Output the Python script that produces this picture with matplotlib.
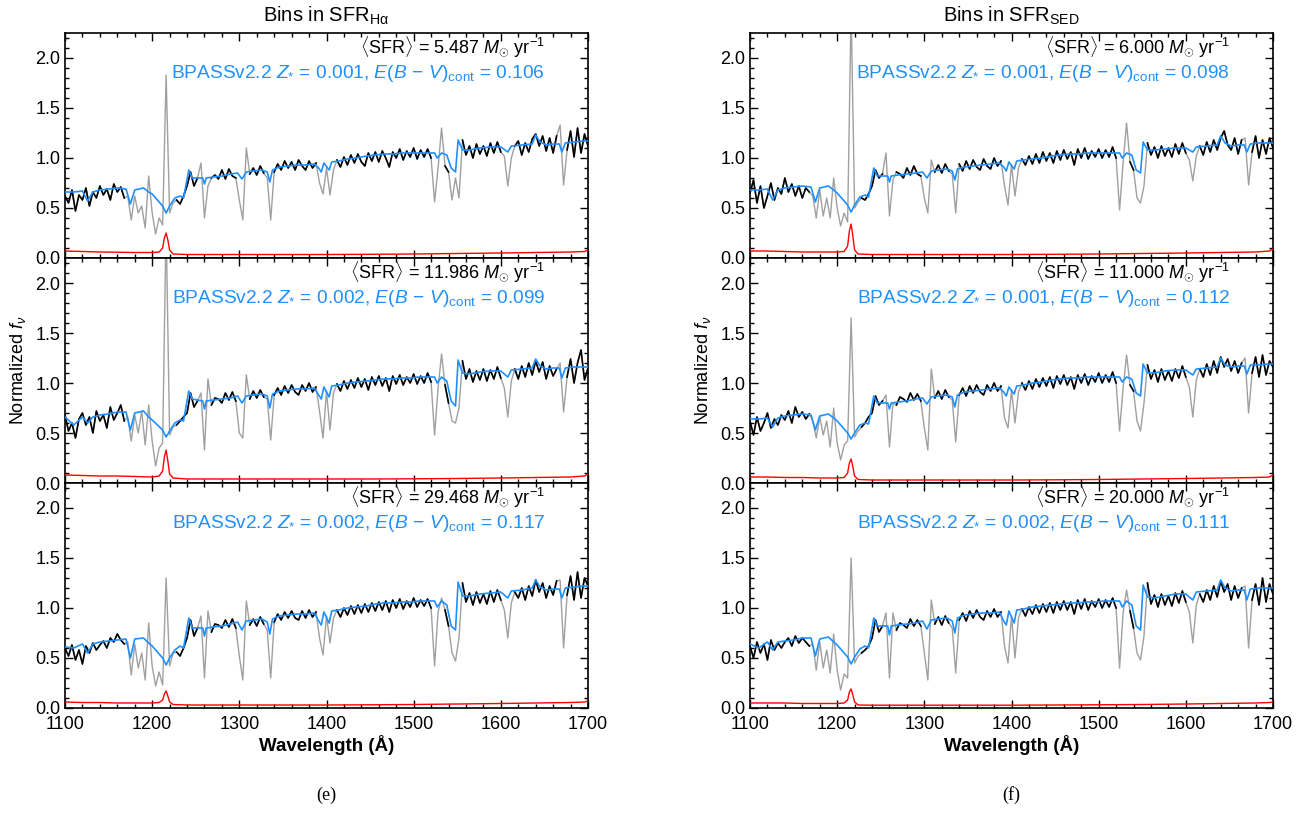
import numpy as np
import matplotlib
matplotlib.use("Agg")
import matplotlib.pyplot as plt
from matplotlib.ticker import MultipleLocator, FormatStrFormatter

plt.rcParams['font.family'] = ['Liberation Sans', 'DejaVu Sans']
plt.rcParams['mathtext.fontset'] = 'custom'
plt.rcParams['mathtext.rm'] = 'Liberation Sans'
plt.rcParams['mathtext.it'] = 'Liberation Sans:italic'
plt.rcParams['mathtext.bf'] = 'Liberation Sans:bold'

# wavelength grid of the composite spectra (Angstrom), 4 A sampling
wave = np.arange(1100, 1701, 4)

# composite spectra (rows of 10 = 40 A each)
flux_e1 = [0.62, 0.55, 0.68, 0.47, 0.63, 0.58, 0.70, 0.52, 0.66, 0.60,
           0.72, 0.63, 0.69, 0.58, 0.74, 0.66, 0.71, 0.60, 0.62, 0.38,
           0.62, 0.45, 0.52, 0.30, 0.82, 0.45, 0.24, 0.40, 0.33, 1.83,
           0.45, 0.55, 0.58, 0.54, 0.62, 0.72, 0.86, 0.72, 0.80, 0.95,
           0.40, 0.72, 0.80, 0.83, 0.79, 0.88, 0.79, 0.89, 0.82, 0.80,
           0.58, 0.38, 1.10, 0.84, 0.90, 0.83, 0.92, 0.85, 0.80, 0.38,
           0.86, 0.94, 0.88, 0.97, 0.90, 0.96, 0.88, 0.98, 0.92, 0.88,
           0.97, 0.90, 0.95, 0.75, 0.64, 0.90, 0.63, 0.88, 0.98, 0.91,
           1.01, 0.93, 1.03, 0.95, 1.04, 0.96, 0.92, 1.05, 0.97, 1.06,
           0.96, 1.07, 1.00, 0.91, 1.06, 1.00, 1.09, 0.98, 1.07, 1.01,
           1.10, 0.99, 1.08, 1.01, 1.09, 1.00, 0.56, 0.90, 1.30, 0.92,
           0.86, 0.58, 0.80, 0.60, 1.18, 1.03, 1.12, 1.00, 1.14, 1.04,
           1.12, 1.02, 1.15, 1.05, 1.16, 1.06, 1.02, 0.72, 1.00, 1.12,
           1.17, 1.03, 1.15, 1.06, 1.19, 1.24, 1.12, 1.22, 1.07, 1.20,
           1.05, 1.22, 1.33, 0.73, 1.08, 1.27, 1.01, 1.30, 1.05, 1.24,
           1.12]
flux_e2 = [0.68, 0.52, 0.60, 0.45, 0.64, 0.70, 0.58, 0.66, 0.50, 0.72,
           0.62, 0.68, 0.55, 0.76, 0.63, 0.70, 0.78, 0.62, 0.66, 0.42,
           0.68, 0.50, 0.72, 0.38, 0.78, 0.42, 0.17, 0.35, 0.40, 2.60,
           0.48, 0.56, 0.58, 0.62, 0.66, 0.70, 0.90, 0.76, 0.82, 0.90,
           0.33, 1.04, 0.78, 0.85, 0.84, 0.80, 0.90, 0.83, 0.91, 0.82,
           0.50, 0.45, 1.08, 0.84, 0.92, 0.85, 0.93, 0.86, 0.84, 0.43,
           0.88, 0.95, 0.88, 0.97, 0.90, 0.98, 0.91, 0.88, 0.98, 0.92,
           1.00, 0.91, 0.96, 0.72, 0.45, 0.92, 0.53, 0.90, 0.99, 0.92,
           1.02, 0.94, 1.03, 0.95, 1.05, 0.96, 1.04, 0.93, 1.06, 0.98,
           1.07, 0.97, 1.05, 0.92, 1.07, 0.99, 1.08, 0.98, 1.06, 1.00,
           1.09, 0.99, 1.07, 1.00, 1.10, 1.01, 0.48, 0.95, 1.29, 0.98,
           0.80, 0.62, 0.60, 0.75, 1.22, 1.04, 1.14, 1.01, 1.12, 1.03,
           1.14, 1.02, 1.13, 1.04, 1.16, 1.05, 0.95, 0.66, 1.02, 1.14,
           1.04, 1.17, 1.06, 1.20, 1.08, 1.22, 1.11, 1.21, 1.04, 1.17,
           1.07, 1.14, 1.20, 0.71, 1.06, 1.24, 1.00, 1.20, 1.33, 1.03,
           1.15]
flux_e3 = [0.60, 0.52, 0.63, 0.48, 0.58, 0.44, 0.62, 0.55, 0.65, 0.58,
           0.63, 0.67, 0.60, 0.70, 0.66, 0.74, 0.68, 0.64, 0.66, 0.33,
           0.64, 0.40, 0.55, 0.28, 0.85, 0.42, 0.22, 0.36, 0.23, 1.30,
           0.42, 0.55, 0.56, 0.52, 0.60, 0.70, 0.88, 0.72, 0.80, 0.92,
           0.30, 0.97, 0.76, 0.84, 0.83, 0.80, 0.88, 0.81, 0.89, 0.80,
           0.52, 0.28, 1.07, 0.83, 0.89, 0.82, 0.91, 0.84, 0.78, 0.30,
           0.86, 0.94, 0.88, 0.96, 0.90, 0.97, 0.90, 0.88, 0.97, 0.90,
           0.98, 0.91, 0.96, 0.70, 0.53, 0.92, 0.65, 0.90, 0.98, 0.91,
           1.00, 0.93, 1.02, 0.94, 1.03, 0.95, 1.04, 0.96, 1.05, 0.97,
           1.06, 0.98, 1.07, 0.96, 1.08, 1.00, 1.09, 0.99, 1.07, 1.01,
           1.10, 1.01, 1.08, 1.02, 1.09, 1.00, 0.42, 0.96, 1.10, 0.98,
           0.82, 0.55, 0.47, 0.70, 1.25, 1.06, 1.15, 1.03, 1.16, 1.05,
           1.14, 1.04, 1.17, 1.06, 1.18, 1.08, 0.98, 0.70, 1.05, 1.16,
           1.10, 1.20, 1.08, 1.22, 1.12, 1.28, 1.16, 1.25, 1.10, 1.22,
           1.13, 1.27, 1.28, 0.60, 1.13, 1.32, 1.08, 1.36, 1.10, 1.30,
           1.22]
flux_f1 = [0.65, 0.78, 0.55, 0.72, 0.50, 0.62, 0.75, 0.58, 0.70, 0.64,
           0.80, 0.66, 0.74, 0.62, 0.72, 0.60, 0.70, 0.66, 0.62, 0.40,
           0.68, 0.42, 0.60, 0.40, 0.80, 0.50, 0.32, 0.45, 0.36, 2.50,
           0.50, 0.56, 0.60, 0.58, 0.64, 0.72, 0.88, 0.80, 0.84, 1.05,
           0.42, 0.78, 0.86, 0.84, 0.80, 0.90, 0.83, 0.92, 0.84, 0.82,
           0.60, 0.45, 0.98, 0.86, 0.93, 0.85, 0.94, 0.87, 0.84, 0.45,
           0.94, 0.87, 0.97, 0.89, 0.98, 0.91, 0.88, 0.99, 0.92, 0.89,
           1.00, 0.92, 0.97, 0.72, 0.53, 0.93, 0.62, 0.90, 0.99, 0.93,
           1.02, 0.94, 1.04, 0.95, 1.06, 0.97, 1.05, 0.95, 1.07, 0.98,
           1.08, 0.99, 1.06, 0.93, 1.09, 1.00, 1.10, 0.99, 1.07, 1.01,
           1.09, 1.00, 1.08, 1.01, 1.11, 1.00, 0.48, 0.95, 1.35, 0.96,
           0.88, 0.60, 0.55, 0.72, 1.15, 1.03, 1.11, 1.00, 1.12, 1.02,
           1.10, 1.01, 1.14, 1.04, 1.15, 1.05, 0.98, 0.77, 1.02, 1.12,
           1.03, 1.16, 1.06, 1.18, 1.08, 1.20, 1.27, 1.13, 1.08, 1.20,
           1.04, 1.18, 1.20, 0.73, 1.06, 1.22, 1.00, 1.18, 1.04, 1.20,
           1.10]
flux_f2 = [0.62, 0.48, 0.66, 0.52, 0.60, 0.70, 0.55, 0.64, 0.58, 0.68,
           0.63, 0.72, 0.60, 0.76, 0.66, 0.71, 0.64, 0.69, 0.62, 0.45,
           0.66, 0.48, 0.62, 0.36, 0.75, 0.40, 0.23, 0.38, 0.42, 1.65,
           0.46, 0.52, 0.56, 0.60, 0.66, 0.70, 0.87, 0.78, 0.82, 0.88,
           0.36, 0.80, 0.78, 0.86, 0.84, 0.81, 0.90, 0.83, 0.89, 0.82,
           0.55, 0.33, 1.14, 0.85, 0.92, 0.84, 0.93, 0.86, 0.83, 0.41,
           0.88, 0.95, 0.87, 0.97, 0.90, 0.98, 0.91, 0.88, 0.98, 0.92,
           1.00, 0.92, 0.97, 0.65, 0.55, 0.93, 0.60, 0.91, 1.00, 0.93,
           1.02, 0.94, 1.04, 0.96, 1.05, 0.97, 1.06, 0.95, 1.07, 0.99,
           1.08, 0.98, 1.06, 0.94, 1.08, 1.00, 1.09, 0.98, 1.07, 1.01,
           1.10, 1.00, 1.08, 1.01, 1.11, 1.00, 0.52, 0.95, 1.28, 0.98,
           0.92, 0.62, 0.52, 0.80, 1.18, 1.04, 1.13, 1.01, 1.14, 1.03,
           1.12, 1.02, 1.14, 1.05, 1.17, 1.06, 0.96, 0.66, 1.03, 1.14,
           1.06, 1.19, 1.08, 1.22, 1.10, 1.26, 1.16, 1.24, 1.12, 1.22,
           1.10, 1.20, 1.25, 0.70, 1.10, 1.26, 1.06, 1.28, 1.08, 1.22,
           1.16]
flux_f3 = [0.62, 0.50, 0.66, 0.55, 0.64, 0.48, 0.68, 0.58, 0.65, 0.60,
           0.66, 0.70, 0.62, 0.72, 0.65, 0.70, 0.66, 0.62, 0.64, 0.38,
           0.66, 0.40, 0.58, 0.35, 0.74, 0.38, 0.18, 0.34, 0.30, 1.50,
           0.45, 0.52, 0.55, 0.58, 0.62, 0.70, 0.88, 0.76, 0.82, 0.95,
           0.30, 0.95, 0.78, 0.85, 0.83, 0.80, 0.89, 0.82, 0.88, 0.82,
           0.55, 0.28, 1.08, 0.84, 0.91, 0.83, 0.92, 0.85, 0.80, 0.35,
           0.88, 0.95, 0.87, 0.97, 0.90, 0.98, 0.91, 0.88, 0.97, 0.91,
           0.99, 0.91, 0.96, 0.62, 0.45, 0.92, 0.50, 0.90, 0.99, 0.92,
           1.01, 0.94, 1.03, 0.95, 1.04, 0.96, 1.05, 0.95, 1.06, 0.98,
           1.07, 0.98, 1.06, 0.94, 1.08, 0.99, 1.09, 0.98, 1.07, 1.01,
           1.09, 1.00, 1.08, 1.01, 1.10, 1.00, 0.40, 0.95, 1.18, 0.97,
           0.80, 0.55, 0.48, 0.72, 1.25, 1.04, 1.13, 1.01, 1.14, 1.03,
           1.12, 1.02, 1.15, 1.05, 1.17, 1.06, 0.96, 0.65, 1.03, 1.14,
           1.06, 1.18, 1.08, 1.22, 1.11, 1.27, 1.16, 1.24, 1.08, 1.22,
           1.10, 1.20, 1.22, 0.60, 1.08, 1.24, 1.03, 1.30, 1.06, 1.24,
           1.14]

# wavelength windows left out of the fit (shown only in grey)
masks = [(1170, 1226), (1254, 1266), (1298, 1310), (1332, 1338),
         (1390, 1408), (1522, 1534), (1542, 1554), (1604, 1612), (1666, 1674)]

# BPASS model wavelengths and values
model_wave = [1100, 1110, 1120, 1126, 1132, 1140, 1150, 1160, 1170, 1175,
              1180, 1190, 1196, 1200, 1206, 1212, 1216, 1220, 1226, 1232,
              1236, 1242, 1246, 1252, 1258, 1260, 1262, 1270, 1280, 1290,
              1298, 1303, 1308, 1316, 1326, 1332, 1335, 1338, 1346, 1356,
              1366, 1376, 1386, 1391, 1394, 1397, 1403, 1406, 1414, 1424,
              1434, 1446, 1456, 1466, 1476, 1486, 1496, 1506, 1516, 1524,
              1527, 1532, 1538, 1543, 1548, 1551, 1556, 1564, 1576, 1588,
              1600, 1608, 1612, 1624, 1636, 1640, 1645, 1652, 1660, 1667,
              1670, 1674, 1684, 1694, 1700]
model_e1 = [0.66, 0.66, 0.67, 0.57, 0.66, 0.68, 0.69, 0.70, 0.69, 0.54,
            0.68, 0.70, 0.66, 0.64, 0.58, 0.52, 0.45, 0.52, 0.60, 0.62,
            0.60, 0.88, 0.80, 0.80, 0.80, 0.74, 0.80, 0.81, 0.82, 0.84,
            0.85, 0.79, 0.86, 0.87, 0.88, 0.86, 0.76, 0.88, 0.91, 0.92,
            0.93, 0.93, 0.94, 0.90, 0.86, 0.95, 0.88, 0.96, 0.97, 0.99,
            1.00, 1.02, 1.03, 1.04, 1.04, 1.05, 1.05, 1.05, 1.05, 1.05,
            1.00, 1.05, 1.03, 0.90, 0.86, 1.18, 1.08, 1.08, 1.10, 1.11,
            1.11, 1.06, 1.12, 1.13, 1.14, 1.23, 1.16, 1.13, 1.14, 1.14,
            1.06, 1.15, 1.16, 1.17, 1.17]
model_e2 = [0.66, 0.58, 0.66, 0.60, 0.66, 0.68, 0.69, 0.71, 0.71, 0.53,
            0.70, 0.72, 0.66, 0.63, 0.58, 0.53, 0.46, 0.52, 0.60, 0.63,
            0.62, 0.92, 0.84, 0.83, 0.82, 0.74, 0.82, 0.83, 0.84, 0.85,
            0.87, 0.80, 0.87, 0.88, 0.89, 0.87, 0.75, 0.89, 0.92, 0.93,
            0.94, 0.94, 0.95, 0.88, 0.84, 0.96, 0.86, 0.97, 0.98, 1.00,
            1.01, 1.02, 1.03, 1.04, 1.04, 1.05, 1.05, 1.06, 1.06, 1.06,
            1.00, 1.06, 1.02, 0.82, 0.77, 1.23, 1.10, 1.09, 1.11, 1.12,
            1.12, 1.06, 1.13, 1.14, 1.15, 1.24, 1.17, 1.14, 1.15, 1.15,
            1.05, 1.15, 1.16, 1.16, 1.16]
model_e3 = [0.61, 0.60, 0.64, 0.55, 0.64, 0.66, 0.67, 0.68, 0.69, 0.50,
            0.69, 0.70, 0.65, 0.62, 0.56, 0.50, 0.43, 0.50, 0.58, 0.62,
            0.60, 0.90, 0.80, 0.80, 0.80, 0.72, 0.80, 0.81, 0.82, 0.84,
            0.86, 0.78, 0.87, 0.88, 0.89, 0.86, 0.74, 0.89, 0.92, 0.93,
            0.94, 0.94, 0.95, 0.87, 0.83, 0.96, 0.85, 0.97, 0.98, 1.00,
            1.01, 1.02, 1.04, 1.05, 1.05, 1.06, 1.06, 1.07, 1.07, 1.07,
            1.01, 1.07, 1.03, 0.82, 0.78, 1.26, 1.12, 1.12, 1.14, 1.15,
            1.16, 1.10, 1.17, 1.18, 1.20, 1.28, 1.21, 1.18, 1.19, 1.19,
            1.10, 1.20, 1.21, 1.22, 1.22]
model_f1 = [0.68, 0.68, 0.69, 0.58, 0.68, 0.70, 0.71, 0.72, 0.71, 0.56,
            0.70, 0.72, 0.68, 0.65, 0.59, 0.53, 0.46, 0.53, 0.61, 0.63,
            0.61, 0.90, 0.82, 0.82, 0.82, 0.76, 0.82, 0.83, 0.84, 0.85,
            0.86, 0.80, 0.87, 0.88, 0.89, 0.87, 0.78, 0.89, 0.91, 0.92,
            0.93, 0.94, 0.95, 0.91, 0.87, 0.96, 0.89, 0.97, 0.98, 0.99,
            1.00, 1.02, 1.03, 1.04, 1.04, 1.05, 1.05, 1.05, 1.05, 1.05,
            1.00, 1.05, 1.03, 0.88, 0.85, 1.16, 1.08, 1.08, 1.09, 1.10,
            1.10, 1.06, 1.11, 1.12, 1.13, 1.22, 1.15, 1.12, 1.13, 1.13,
            1.06, 1.14, 1.15, 1.15, 1.15]
model_f2 = [0.64, 0.64, 0.65, 0.56, 0.65, 0.67, 0.68, 0.69, 0.68, 0.53,
            0.67, 0.69, 0.65, 0.62, 0.56, 0.50, 0.44, 0.50, 0.58, 0.60,
            0.59, 0.87, 0.80, 0.80, 0.80, 0.74, 0.80, 0.81, 0.82, 0.84,
            0.85, 0.79, 0.86, 0.87, 0.88, 0.86, 0.76, 0.88, 0.91, 0.92,
            0.93, 0.94, 0.95, 0.91, 0.87, 0.96, 0.89, 0.97, 0.98, 1.00,
            1.01, 1.03, 1.04, 1.05, 1.05, 1.06, 1.06, 1.06, 1.06, 1.06,
            1.01, 1.06, 1.04, 0.90, 0.87, 1.19, 1.10, 1.10, 1.12, 1.13,
            1.13, 1.08, 1.14, 1.15, 1.16, 1.25, 1.18, 1.16, 1.17, 1.17,
            1.09, 1.18, 1.18, 1.19, 1.19]
model_f3 = [0.64, 0.60, 0.66, 0.58, 0.66, 0.67, 0.68, 0.70, 0.70, 0.52,
            0.69, 0.71, 0.66, 0.63, 0.57, 0.51, 0.44, 0.51, 0.59, 0.62,
            0.60, 0.90, 0.82, 0.82, 0.82, 0.73, 0.82, 0.83, 0.84, 0.85,
            0.87, 0.79, 0.88, 0.89, 0.90, 0.87, 0.75, 0.90, 0.93, 0.94,
            0.95, 0.95, 0.96, 0.87, 0.83, 0.97, 0.85, 0.98, 0.99, 1.01,
            1.02, 1.03, 1.04, 1.05, 1.05, 1.06, 1.06, 1.07, 1.07, 1.07,
            1.01, 1.07, 1.03, 0.82, 0.78, 1.23, 1.11, 1.10, 1.12, 1.14,
            1.14, 1.08, 1.16, 1.17, 1.18, 1.28, 1.20, 1.17, 1.18, 1.18,
            1.08, 1.19, 1.20, 1.20, 1.20]

# error spectra
err_wave = [1100, 1120, 1140, 1160, 1180, 1200, 1208, 1212, 1214, 1216,
            1218, 1220, 1224, 1240, 1270, 1300, 1350, 1400, 1450, 1500,
            1550, 1600, 1640, 1680, 1696, 1700]
err_e1 = [0.07, 0.065, 0.06, 0.058, 0.055, 0.055, 0.06, 0.10, 0.20, 0.25,
          0.18, 0.08, 0.04, 0.035, 0.035, 0.035, 0.035, 0.035, 0.037, 0.04,
          0.045, 0.05, 0.055, 0.06, 0.065, 0.08]
err_e2 = [0.08, 0.075, 0.07, 0.07, 0.065, 0.06, 0.07, 0.12, 0.26, 0.33,
          0.22, 0.09, 0.05, 0.04, 0.04, 0.04, 0.04, 0.04, 0.04, 0.042,
          0.045, 0.05, 0.055, 0.06, 0.07, 0.09]
err_e3 = [0.06, 0.055, 0.055, 0.05, 0.05, 0.05, 0.055, 0.08, 0.14, 0.17,
          0.12, 0.06, 0.035, 0.03, 0.03, 0.03, 0.03, 0.03, 0.032, 0.035,
          0.04, 0.045, 0.05, 0.055, 0.06, 0.07]
err_f1 = [0.07, 0.07, 0.065, 0.06, 0.06, 0.06, 0.065, 0.12, 0.27, 0.34,
          0.22, 0.08, 0.04, 0.035, 0.035, 0.035, 0.035, 0.035, 0.037, 0.04,
          0.045, 0.05, 0.055, 0.06, 0.07, 0.09]
err_f2 = [0.06, 0.06, 0.055, 0.055, 0.05, 0.05, 0.055, 0.10, 0.20, 0.24,
          0.16, 0.07, 0.035, 0.03, 0.03, 0.03, 0.03, 0.03, 0.032, 0.035,
          0.04, 0.045, 0.05, 0.055, 0.06, 0.08]
err_f3 = [0.05, 0.05, 0.05, 0.045, 0.045, 0.045, 0.05, 0.08, 0.16, 0.19,
          0.13, 0.06, 0.03, 0.028, 0.028, 0.028, 0.028, 0.028, 0.03, 0.032,
          0.035, 0.04, 0.045, 0.05, 0.055, 0.06]

sfr_left = ['5.487', '11.986', '29.468']
sfr_right = ['6.000', '11.000', '20.000']
z_left = ['0.001', '0.002', '0.002']
z_right = ['0.001', '0.001', '0.002']
ebv_left = ['0.106', '0.099', '0.117']
ebv_right = ['0.098', '0.112', '0.111']

columns = [
    dict(x0=65, title=r'Bins in SFR$_{\rm H\alpha}$', caption='(e)',
         flux=[flux_e1, flux_e2, flux_e3], model=[model_e1, model_e2, model_e3],
         err=[err_e1, err_e2, err_e3], sfr=sfr_left, z=z_left, ebv=ebv_left),
    dict(x0=750, title=r'Bins in SFR$_{\rm SED}$', caption='(f)',
         flux=[flux_f1, flux_f2, flux_f3], model=[model_f1, model_f2, model_f3],
         err=[err_f1, err_f2, err_f3], sfr=sfr_right, z=z_right, ebv=ebv_right),
]

W, H = 1312, 814
fig = plt.figure(figsize=(W / 100, H / 100), dpi=100)
panel_w, panel_h = 523, 225
panel_bottom = [258, 483, 708]

masked = np.zeros(len(wave), dtype=bool)
for lo, hi in masks:
    masked |= (wave >= lo) & (wave <= hi)

for col in columns:
    for k in range(3):
        ax = fig.add_axes([col['x0'] / W, 1 - panel_bottom[k] / H, panel_w / W, panel_h / H])
        flux = np.array(col['flux'][k])
        black = np.where(masked, np.nan, flux)
        ax.plot(wave, flux, color='#a0a0a0', lw=1.0, zorder=1)
        ax.plot(wave, black, color='black', lw=1.2, zorder=2)
        ax.plot(model_wave, col['model'][k], color='#1e90ff', lw=1.2, zorder=3)
        ax.plot(err_wave, col['err'][k], color='red', lw=1.0, zorder=3)

        ax.set_xlim(1100, 1700)
        ax.set_ylim(0, 2.25)
        ax.xaxis.set_major_locator(MultipleLocator(100))
        ax.xaxis.set_minor_locator(MultipleLocator(20))
        ax.yaxis.set_major_locator(MultipleLocator(0.5))
        ax.yaxis.set_minor_locator(MultipleLocator(0.1))
        ax.yaxis.set_major_formatter(FormatStrFormatter('%.1f'))
        ax.tick_params(which='both', direction='in', top=True, right=True,
                       labelsize=13, width=1.0)
        ax.tick_params(which='major', length=6)
        ax.tick_params(which='minor', length=3)
        ax.tick_params(axis='x', pad=6)
        for s in ax.spines.values():
            s.set_linewidth(1.2)
        if k < 2:
            ax.tick_params(labelbottom=False)

        ax.text(0.918, 0.935, r'$\langle$SFR$\rangle$ = %s $M_{\odot}$ yr$^{-1}$' % col['sfr'][k],
                transform=ax.transAxes, ha='right', va='center', fontsize=13)
        ax.text(0.918, 0.822,
                r'BPASSv2.2 $Z_{*}$ = %s, $E(B\,-\,V)_{\rm cont}$ = %s' % (col['z'][k], col['ebv'][k]),
                transform=ax.transAxes, ha='right', va='center', fontsize=13.8, color='#1e90ff')

    xc = (col['x0'] + panel_w / 2) / W
    fig.text(xc, 1 - 16 / H, col['title'], ha='center', va='center', fontsize=14.5)
    fig.text(xc, 1 - 745 / H, 'Wavelength (Å)', ha='center', va='center',
             fontsize=13.5, fontweight='bold')
    fig.text(xc, 1 - 795 / H, col['caption'], ha='center', va='center',
             fontsize=13, family='Liberation Serif')
    fig.text((col['x0'] - 47) / W, 1 - 370 / H, r'Normalized $f_\nu$', rotation=90,
             ha='center', va='center', fontsize=13)

fig.savefig('out.png', dpi=100)
